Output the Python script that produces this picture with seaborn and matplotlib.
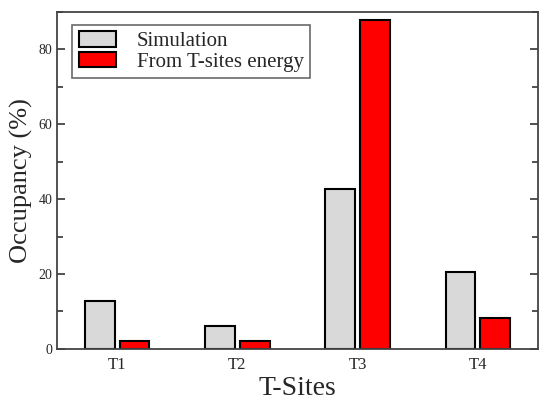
import matplotlib
matplotlib.use("Agg")
import matplotlib.pyplot as plt
from matplotlib.ticker import MultipleLocator
import numpy as np
import pandas as pd
import seaborn as sns

sites = ["T1", "T2", "T3", "T4"]
simulation = [12.9, 6.0, 42.8, 20.6]
tsite_energy = [2.2, 2.2, 87.8, 8.2]
series_names = ["Simulation", "From T-sites energy"]

df = pd.DataFrame({
    "site": sites * 2,
    "occ": simulation + tsite_energy,
    "series": [series_names[0]] * 4 + [series_names[1]] * 4,
})

sns.set_style("ticks")
plt.rcParams["font.family"] = ["Liberation Serif", "DejaVu Serif"]

fig = plt.figure(figsize=(5.39, 4.09), dpi=100)
ax = fig.add_axes([0.106, 0.147, 0.892, 0.824])

sns.barplot(data=df, x="site", y="occ", hue="series",
            palette=["#d9d9d9", "#ff0000"], saturation=1, width=0.58, gap=0.15,
            edgecolor="black", linewidth=1.5, ax=ax)

ax.set_ylim(0, 90)
ax.set_xlim(-0.5, 3.5)
ax.yaxis.set_major_locator(MultipleLocator(20))
ax.yaxis.set_minor_locator(MultipleLocator(10))
ax.tick_params(axis="y", which="both", direction="in", right=True,
               labelsize=10, color="#333333", width=1.2)
ax.tick_params(axis="y", which="major", length=6)
ax.tick_params(axis="y", which="minor", length=4)
ax.tick_params(axis="x", length=0, labelsize=12, pad=6)
for s in ax.spines.values():
    s.set_visible(True)
    s.set_linewidth(1.3)
    s.set_color("#444444")

ax.set_xlabel("T-Sites", fontsize=20, labelpad=2)
ax.set_ylabel("Occupancy (%)", fontsize=19)

leg = ax.legend(loc="upper left", bbox_to_anchor=(0.01, 0.993), fontsize=15,
                frameon=True, fancybox=False, edgecolor="#444444",
                handlelength=1.8, handleheight=0.8, borderpad=0.3,
                labelspacing=0.02, handletextpad=1.0)
leg.get_frame().set_linewidth(1.2)

fig.savefig("out.png", dpi=100)
